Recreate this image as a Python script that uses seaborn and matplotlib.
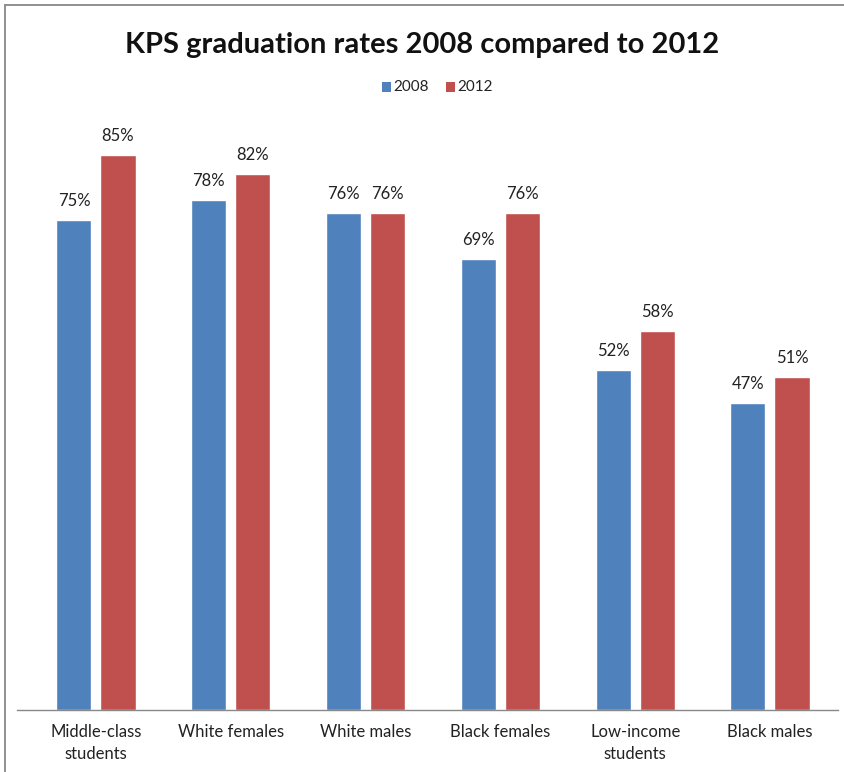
import matplotlib
matplotlib.use("Agg")
import matplotlib.pyplot as plt
import seaborn as sns
import pandas as pd
from matplotlib.lines import Line2D

categories = ["Middle-class\nstudents", "White females", "White males",
              "Black females", "Low-income\nstudents", "Black males"]
rates_2008 = [75, 78, 76, 69, 52, 47]
rates_2012 = [85, 82, 76, 76, 58, 51]
years = ["2008", "2012"]
colors = ["#4F81BD", "#C0504D"]

df = pd.DataFrame({
    "category": categories * 2,
    "year": [years[0]] * len(categories) + [years[1]] * len(categories),
    "rate": rates_2008 + rates_2012,
})

sns.set_style("white")
plt.rcParams["font.family"] = ["Lato", "DejaVu Sans"]

W, H = 844, 772
fig = plt.figure(figsize=(W / 100, H / 100), dpi=100)
ax = fig.add_axes([17 / W, (H - 710) / H, (838 - 17) / W, (710 - 122) / H])

sns.barplot(data=df, x="category", y="rate", hue="year", palette=colors,
            width=0.653, gap=0.2045, ax=ax, legend=False, saturation=1)

for cont in ax.containers:
    labels = [f"{int(round(v))}%" for v in cont.datavalues]
    ax.bar_label(cont, labels=labels, padding=8, fontsize=12, color="#222222")

ax.set_ylim(0, 90)
ax.set_xlim(-0.586, 5 + (838 - 770) / 134.8)
ax.set_xlabel("")
ax.set_ylabel("")
ax.set_yticks([])
for s in ["top", "right", "left"]:
    ax.spines[s].set_visible(False)
ax.spines["bottom"].set_color("#888888")
ax.spines["bottom"].set_linewidth(1)
ax.tick_params(axis="x", length=0, labelsize=12, pad=10, colors="#222222")
for t in ax.get_xticklabels():
    t.set_linespacing(1.5)

fig.text(0.5, (H - 45) / H, "KPS graduation rates 2008 compared to 2012",
         ha="center", va="center", fontsize=21, fontweight="bold", color="#111111")

# legend
from matplotlib.patches import Rectangle
ly = (H - 87) / H
for x0, lab, c in [(382, "2008", colors[0]), (446, "2012", colors[1])]:
    fig.patches.append(Rectangle((x0 / W, ly - 4.5 / H), 9 / W, 9 / H,
                                 transform=fig.transFigure, facecolor=c, edgecolor="none"))
    fig.text((x0 + 11) / W, ly, lab, ha="left", va="center", fontsize=11, color="#222222")

# chart frame: only top and left edges visible in reference
fig.lines.append(Line2D([5 / W, 5 / W], [0, (H - 5) / H], transform=fig.transFigure,
                        color="#888888", linewidth=1.3))
fig.lines.append(Line2D([5 / W, 1], [(H - 5) / H, (H - 5) / H], transform=fig.transFigure,
                        color="#888888", linewidth=1.3))

fig.savefig("out.png", dpi=100)
